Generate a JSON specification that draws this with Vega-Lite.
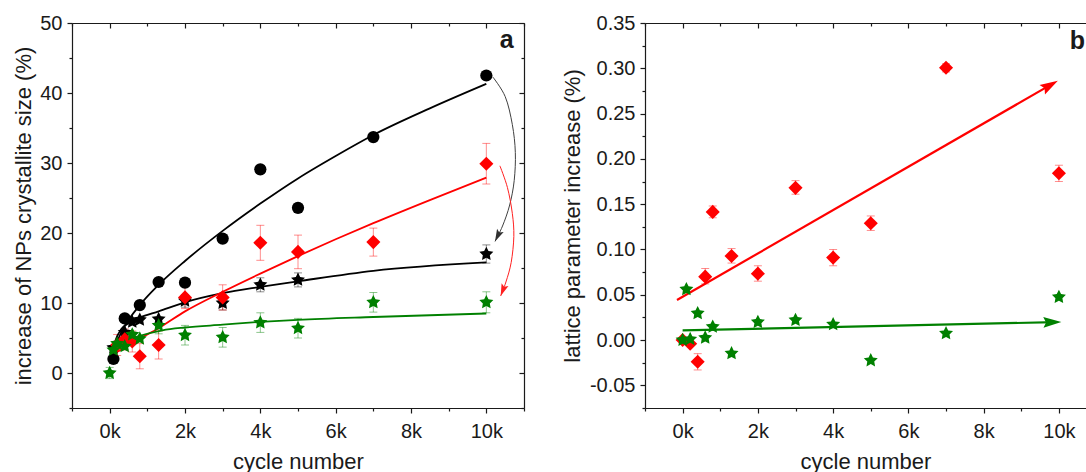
{
  "$schema": "https://vega.github.io/schema/vega-lite/v6.json",
  "background": "white",
  "padding": {"left": 12, "top": 13, "right": 0, "bottom": 0},
  "spacing": 36,
  "config": {
    "view": {"stroke": null},
    "font": "Liberation Sans",
    "axis": {
      "labelFont": "Liberation Sans", "titleFont": "Liberation Sans",
      "labelColor": "#1a1a1a", "titleColor": "#1a1a1a",
      "tickColor": "#1a1a1a", "domainColor": "#1a1a1a",
      "grid": false, "titleFontWeight": "normal",
      "labelFontSize": 20, "titleFontSize": 22,
      "tickWidth": 1.2, "domainWidth": 1.2, "labelFlush": false
    }
  },
  "datasets": {
    "lp": [
      {"series": "Pt(JM) (0.6 to 0.95) V AST", "cycle": 100, "value": 2.0},
      {"series": "Pt(JM) (0.6 to 0.95) V AST", "cycle": 400, "value": 7.8},
      {"series": "Pt(JM) (0.6 to 0.95) V AST", "cycle": 800, "value": 9.7},
      {"series": "Pt(JM) (0.6 to 0.95) V AST", "cycle": 1300, "value": 13.0},
      {"series": "Pt(JM) (0.6 to 0.95) V AST", "cycle": 2000, "value": 12.9},
      {"series": "Pt(JM) (0.6 to 0.95) V AST", "cycle": 3000, "value": 19.2},
      {"series": "Pt(JM) (0.6 to 0.95) V AST", "cycle": 4000, "value": 29.1},
      {"series": "Pt(JM) (0.6 to 0.95) V AST", "cycle": 5000, "value": 23.6},
      {"series": "Pt(JM) (0.6 to 0.95) V AST", "cycle": 7000, "value": 33.7},
      {"series": "Pt(JM) (0.6 to 0.95) V AST", "cycle": 10000, "value": 42.5},
      {"series": "Pt(JM) (0.7 to 0.95) V AST", "cycle": 100, "value": 3.6},
      {"series": "Pt(JM) (0.7 to 0.95) V AST", "cycle": 400, "value": 5.8},
      {"series": "Pt(JM) (0.7 to 0.95) V AST", "cycle": 600, "value": 7.3},
      {"series": "Pt(JM) (0.7 to 0.95) V AST", "cycle": 800, "value": 7.6},
      {"series": "Pt(JM) (0.7 to 0.95) V AST", "cycle": 1300, "value": 7.7},
      {"series": "Pt(JM) (0.7 to 0.95) V AST", "cycle": 2000, "value": 10.3},
      {"series": "Pt(JM) (0.7 to 0.95) V AST", "cycle": 3000, "value": 10.0},
      {"series": "Pt(JM) (0.7 to 0.95) V AST", "cycle": 4000, "value": 12.6},
      {"series": "Pt(JM) (0.7 to 0.95) V AST", "cycle": 5000, "value": 13.3},
      {"series": "Pt(JM) (0.7 to 0.95) V AST", "cycle": 10000, "value": 17.0},
      {"series": "oh-PtNiIr (0.6 to 0.95) V AST", "cycle": 200, "value": 4.0},
      {"series": "oh-PtNiIr (0.6 to 0.95) V AST", "cycle": 400, "value": 4.8},
      {"series": "oh-PtNiIr (0.6 to 0.95) V AST", "cycle": 600, "value": 4.5},
      {"series": "oh-PtNiIr (0.6 to 0.95) V AST", "cycle": 800, "value": 2.4},
      {"series": "oh-PtNiIr (0.6 to 0.95) V AST", "cycle": 1300, "value": 4.0},
      {"series": "oh-PtNiIr (0.6 to 0.95) V AST", "cycle": 2000, "value": 10.8},
      {"series": "oh-PtNiIr (0.6 to 0.95) V AST", "cycle": 3000, "value": 10.8},
      {"series": "oh-PtNiIr (0.6 to 0.95) V AST", "cycle": 4000, "value": 18.6},
      {"series": "oh-PtNiIr (0.6 to 0.95) V AST", "cycle": 5000, "value": 17.3},
      {"series": "oh-PtNiIr (0.6 to 0.95) V AST", "cycle": 7000, "value": 18.7},
      {"series": "oh-PtNiIr (0.6 to 0.95) V AST", "cycle": 10000, "value": 29.9},
      {"series": "oh-PtNiIr (0.7 to 0.95) V AST", "cycle": 0, "value": 0.0},
      {"series": "oh-PtNiIr (0.7 to 0.95) V AST", "cycle": 100, "value": 3.3},
      {"series": "oh-PtNiIr (0.7 to 0.95) V AST", "cycle": 200, "value": 4.2},
      {"series": "oh-PtNiIr (0.7 to 0.95) V AST", "cycle": 400, "value": 3.8},
      {"series": "oh-PtNiIr (0.7 to 0.95) V AST", "cycle": 600, "value": 5.5},
      {"series": "oh-PtNiIr (0.7 to 0.95) V AST", "cycle": 800, "value": 4.9},
      {"series": "oh-PtNiIr (0.7 to 0.95) V AST", "cycle": 1300, "value": 6.8},
      {"series": "oh-PtNiIr (0.7 to 0.95) V AST", "cycle": 2000, "value": 5.4},
      {"series": "oh-PtNiIr (0.7 to 0.95) V AST", "cycle": 3000, "value": 5.1},
      {"series": "oh-PtNiIr (0.7 to 0.95) V AST", "cycle": 4000, "value": 7.2},
      {"series": "oh-PtNiIr (0.7 to 0.95) V AST", "cycle": 5000, "value": 6.4},
      {"series": "oh-PtNiIr (0.7 to 0.95) V AST", "cycle": 7000, "value": 10.1},
      {"series": "oh-PtNiIr (0.7 to 0.95) V AST", "cycle": 10000, "value": 10.1}
    ],
    "le": [
      {"series": "Pt(JM) (0.7 to 0.95) V AST", "cycle": 2000, "lo": 9.4, "hi": 11.2},
      {"series": "Pt(JM) (0.7 to 0.95) V AST", "cycle": 3000, "lo": 9.0, "hi": 11.0},
      {"series": "Pt(JM) (0.7 to 0.95) V AST", "cycle": 4000, "lo": 11.6, "hi": 13.6},
      {"series": "Pt(JM) (0.7 to 0.95) V AST", "cycle": 5000, "lo": 12.3, "hi": 14.3},
      {"series": "Pt(JM) (0.7 to 0.95) V AST", "cycle": 10000, "lo": 15.7, "hi": 18.3},
      {"series": "oh-PtNiIr (0.6 to 0.95) V AST", "cycle": 200, "lo": 2.5, "hi": 5.5},
      {"series": "oh-PtNiIr (0.6 to 0.95) V AST", "cycle": 400, "lo": 3.3, "hi": 6.3},
      {"series": "oh-PtNiIr (0.6 to 0.95) V AST", "cycle": 600, "lo": 3.0, "hi": 6.0},
      {"series": "oh-PtNiIr (0.6 to 0.95) V AST", "cycle": 800, "lo": 0.6, "hi": 4.2},
      {"series": "oh-PtNiIr (0.6 to 0.95) V AST", "cycle": 1300, "lo": 2.0, "hi": 6.0},
      {"series": "oh-PtNiIr (0.6 to 0.95) V AST", "cycle": 2000, "lo": 9.2, "hi": 12.4},
      {"series": "oh-PtNiIr (0.6 to 0.95) V AST", "cycle": 3000, "lo": 9.0, "hi": 12.6},
      {"series": "oh-PtNiIr (0.6 to 0.95) V AST", "cycle": 4000, "lo": 16.1, "hi": 21.1},
      {"series": "oh-PtNiIr (0.6 to 0.95) V AST", "cycle": 5000, "lo": 14.9, "hi": 19.7},
      {"series": "oh-PtNiIr (0.6 to 0.95) V AST", "cycle": 7000, "lo": 16.7, "hi": 20.7},
      {"series": "oh-PtNiIr (0.6 to 0.95) V AST", "cycle": 10000, "lo": 27.0, "hi": 32.8},
      {"series": "oh-PtNiIr (0.7 to 0.95) V AST", "cycle": 0, "lo": -0.8, "hi": 0.8},
      {"series": "oh-PtNiIr (0.7 to 0.95) V AST", "cycle": 1300, "lo": 5.6, "hi": 8.0},
      {"series": "oh-PtNiIr (0.7 to 0.95) V AST", "cycle": 2000, "lo": 4.0, "hi": 6.8},
      {"series": "oh-PtNiIr (0.7 to 0.95) V AST", "cycle": 3000, "lo": 3.7, "hi": 6.5},
      {"series": "oh-PtNiIr (0.7 to 0.95) V AST", "cycle": 4000, "lo": 5.8, "hi": 8.6},
      {"series": "oh-PtNiIr (0.7 to 0.95) V AST", "cycle": 5000, "lo": 5.0, "hi": 7.8},
      {"series": "oh-PtNiIr (0.7 to 0.95) V AST", "cycle": 7000, "lo": 8.7, "hi": 11.5},
      {"series": "oh-PtNiIr (0.7 to 0.95) V AST", "cycle": 10000, "lo": 8.6, "hi": 11.6}
    ],
    "lf": [
      {"series": "Pt(JM) (0.6 to 0.95) V AST", "cycle": 50, "value": 2.0},
      {"series": "Pt(JM) (0.6 to 0.95) V AST", "cycle": 200, "value": 4.5},
      {"series": "Pt(JM) (0.6 to 0.95) V AST", "cycle": 400, "value": 6.7},
      {"series": "Pt(JM) (0.6 to 0.95) V AST", "cycle": 800, "value": 9.7},
      {"series": "Pt(JM) (0.6 to 0.95) V AST", "cycle": 1300, "value": 12.6},
      {"series": "Pt(JM) (0.6 to 0.95) V AST", "cycle": 2000, "value": 16.0},
      {"series": "Pt(JM) (0.6 to 0.95) V AST", "cycle": 3000, "value": 20.3},
      {"series": "Pt(JM) (0.6 to 0.95) V AST", "cycle": 4000, "value": 24.2},
      {"series": "Pt(JM) (0.6 to 0.95) V AST", "cycle": 5000, "value": 27.8},
      {"series": "Pt(JM) (0.6 to 0.95) V AST", "cycle": 6000, "value": 31.0},
      {"series": "Pt(JM) (0.6 to 0.95) V AST", "cycle": 7000, "value": 34.0},
      {"series": "Pt(JM) (0.6 to 0.95) V AST", "cycle": 8500, "value": 37.8},
      {"series": "Pt(JM) (0.6 to 0.95) V AST", "cycle": 10000, "value": 41.3},
      {"series": "Pt(JM) (0.7 to 0.95) V AST", "cycle": 50, "value": 2.8},
      {"series": "Pt(JM) (0.7 to 0.95) V AST", "cycle": 150, "value": 4.6},
      {"series": "Pt(JM) (0.7 to 0.95) V AST", "cycle": 300, "value": 6.2},
      {"series": "Pt(JM) (0.7 to 0.95) V AST", "cycle": 600, "value": 7.4},
      {"series": "Pt(JM) (0.7 to 0.95) V AST", "cycle": 800, "value": 7.9},
      {"series": "Pt(JM) (0.7 to 0.95) V AST", "cycle": 1300, "value": 8.8},
      {"series": "Pt(JM) (0.7 to 0.95) V AST", "cycle": 2000, "value": 10.1},
      {"series": "Pt(JM) (0.7 to 0.95) V AST", "cycle": 3000, "value": 11.4},
      {"series": "Pt(JM) (0.7 to 0.95) V AST", "cycle": 4000, "value": 12.3},
      {"series": "Pt(JM) (0.7 to 0.95) V AST", "cycle": 5000, "value": 13.1},
      {"series": "Pt(JM) (0.7 to 0.95) V AST", "cycle": 7000, "value": 14.6},
      {"series": "Pt(JM) (0.7 to 0.95) V AST", "cycle": 10000, "value": 15.8},
      {"series": "oh-PtNiIr (0.6 to 0.95) V AST", "cycle": 150, "value": 2.9},
      {"series": "oh-PtNiIr (0.6 to 0.95) V AST", "cycle": 500, "value": 3.9},
      {"series": "oh-PtNiIr (0.6 to 0.95) V AST", "cycle": 800, "value": 4.9},
      {"series": "oh-PtNiIr (0.6 to 0.95) V AST", "cycle": 1300, "value": 6.4},
      {"series": "oh-PtNiIr (0.6 to 0.95) V AST", "cycle": 2000, "value": 8.8},
      {"series": "oh-PtNiIr (0.6 to 0.95) V AST", "cycle": 3000, "value": 11.6},
      {"series": "oh-PtNiIr (0.6 to 0.95) V AST", "cycle": 4000, "value": 14.2},
      {"series": "oh-PtNiIr (0.6 to 0.95) V AST", "cycle": 5000, "value": 16.7},
      {"series": "oh-PtNiIr (0.6 to 0.95) V AST", "cycle": 6000, "value": 19.1},
      {"series": "oh-PtNiIr (0.6 to 0.95) V AST", "cycle": 7000, "value": 21.4},
      {"series": "oh-PtNiIr (0.6 to 0.95) V AST", "cycle": 8500, "value": 24.7},
      {"series": "oh-PtNiIr (0.6 to 0.95) V AST", "cycle": 10000, "value": 27.9},
      {"series": "oh-PtNiIr (0.7 to 0.95) V AST", "cycle": 30, "value": 2.2},
      {"series": "oh-PtNiIr (0.7 to 0.95) V AST", "cycle": 100, "value": 3.4},
      {"series": "oh-PtNiIr (0.7 to 0.95) V AST", "cycle": 350, "value": 4.4},
      {"series": "oh-PtNiIr (0.7 to 0.95) V AST", "cycle": 800, "value": 5.3},
      {"series": "oh-PtNiIr (0.7 to 0.95) V AST", "cycle": 1400, "value": 6.1},
      {"series": "oh-PtNiIr (0.7 to 0.95) V AST", "cycle": 2000, "value": 6.5},
      {"series": "oh-PtNiIr (0.7 to 0.95) V AST", "cycle": 3000, "value": 6.9},
      {"series": "oh-PtNiIr (0.7 to 0.95) V AST", "cycle": 4000, "value": 7.3},
      {"series": "oh-PtNiIr (0.7 to 0.95) V AST", "cycle": 5000, "value": 7.6},
      {"series": "oh-PtNiIr (0.7 to 0.95) V AST", "cycle": 7000, "value": 8.0},
      {"series": "oh-PtNiIr (0.7 to 0.95) V AST", "cycle": 10000, "value": 8.5}
    ],
    "la1": [
      {"ord": 1, "cycle": 10170, "value": 42.3},
      {"ord": 2, "cycle": 10500, "value": 39.5},
      {"ord": 3, "cycle": 10690, "value": 35.5},
      {"ord": 4, "cycle": 10770, "value": 31.5},
      {"ord": 5, "cycle": 10740, "value": 27.5},
      {"ord": 6, "cycle": 10620, "value": 24.0},
      {"ord": 7, "cycle": 10430, "value": 21.0},
      {"ord": 8, "cycle": 10230, "value": 18.8}
    ],
    "la2": [
      {"ord": 1, "cycle": 10360, "value": 29.6},
      {"ord": 2, "cycle": 10560, "value": 26.5},
      {"ord": 3, "cycle": 10690, "value": 22.8},
      {"ord": 4, "cycle": 10730, "value": 19.5},
      {"ord": 5, "cycle": 10660, "value": 15.8},
      {"ord": 6, "cycle": 10520, "value": 13.0},
      {"ord": 7, "cycle": 10380, "value": 11.0}
    ],
    "lh1": [{"cycle": 10230, "value": 18.8}],
    "lh2": [{"cycle": 10380, "value": 11.0}],
    "ll": [{"label": "a", "cycle": 10540, "value": 46.5}],
    "rp": [
      {"series": "oh-PtNiIr (0.6 to 0.95) V AST", "cycle": 0, "value": 0.0},
      {"series": "oh-PtNiIr (0.6 to 0.95) V AST", "cycle": 200, "value": -0.004},
      {"series": "oh-PtNiIr (0.6 to 0.95) V AST", "cycle": 400, "value": -0.024},
      {"series": "oh-PtNiIr (0.6 to 0.95) V AST", "cycle": 600, "value": 0.070},
      {"series": "oh-PtNiIr (0.6 to 0.95) V AST", "cycle": 800, "value": 0.1415},
      {"series": "oh-PtNiIr (0.6 to 0.95) V AST", "cycle": 1300, "value": 0.0928},
      {"series": "oh-PtNiIr (0.6 to 0.95) V AST", "cycle": 2000, "value": 0.0733},
      {"series": "oh-PtNiIr (0.6 to 0.95) V AST", "cycle": 3000, "value": 0.168},
      {"series": "oh-PtNiIr (0.6 to 0.95) V AST", "cycle": 4000, "value": 0.091},
      {"series": "oh-PtNiIr (0.6 to 0.95) V AST", "cycle": 5000, "value": 0.129},
      {"series": "oh-PtNiIr (0.6 to 0.95) V AST", "cycle": 7000, "value": 0.3006},
      {"series": "oh-PtNiIr (0.6 to 0.95) V AST", "cycle": 10000, "value": 0.1842},
      {"series": "oh-PtNiIr (0.7 to 0.95) V AST", "cycle": 0, "value": 0.0},
      {"series": "oh-PtNiIr (0.7 to 0.95) V AST", "cycle": 100, "value": 0.056},
      {"series": "oh-PtNiIr (0.7 to 0.95) V AST", "cycle": 200, "value": 0.001},
      {"series": "oh-PtNiIr (0.7 to 0.95) V AST", "cycle": 400, "value": 0.0295},
      {"series": "oh-PtNiIr (0.7 to 0.95) V AST", "cycle": 600, "value": 0.0026},
      {"series": "oh-PtNiIr (0.7 to 0.95) V AST", "cycle": 800, "value": 0.0147},
      {"series": "oh-PtNiIr (0.7 to 0.95) V AST", "cycle": 1300, "value": -0.0147},
      {"series": "oh-PtNiIr (0.7 to 0.95) V AST", "cycle": 2000, "value": 0.0199},
      {"series": "oh-PtNiIr (0.7 to 0.95) V AST", "cycle": 3000, "value": 0.0221},
      {"series": "oh-PtNiIr (0.7 to 0.95) V AST", "cycle": 4000, "value": 0.0173},
      {"series": "oh-PtNiIr (0.7 to 0.95) V AST", "cycle": 5000, "value": -0.0225},
      {"series": "oh-PtNiIr (0.7 to 0.95) V AST", "cycle": 7000, "value": 0.0074},
      {"series": "oh-PtNiIr (0.7 to 0.95) V AST", "cycle": 10000, "value": 0.0475}
    ],
    "re": [
      {"series": "oh-PtNiIr (0.6 to 0.95) V AST", "cycle": 400, "lo": -0.033, "hi": -0.015},
      {"series": "oh-PtNiIr (0.6 to 0.95) V AST", "cycle": 600, "lo": 0.062, "hi": 0.079},
      {"series": "oh-PtNiIr (0.6 to 0.95) V AST", "cycle": 800, "lo": 0.135, "hi": 0.148},
      {"series": "oh-PtNiIr (0.6 to 0.95) V AST", "cycle": 1300, "lo": 0.085, "hi": 0.101},
      {"series": "oh-PtNiIr (0.6 to 0.95) V AST", "cycle": 2000, "lo": 0.065, "hi": 0.082},
      {"series": "oh-PtNiIr (0.6 to 0.95) V AST", "cycle": 3000, "lo": 0.161, "hi": 0.176},
      {"series": "oh-PtNiIr (0.6 to 0.95) V AST", "cycle": 4000, "lo": 0.082, "hi": 0.100},
      {"series": "oh-PtNiIr (0.6 to 0.95) V AST", "cycle": 5000, "lo": 0.121, "hi": 0.137},
      {"series": "oh-PtNiIr (0.6 to 0.95) V AST", "cycle": 7000, "lo": 0.296, "hi": 0.305},
      {"series": "oh-PtNiIr (0.6 to 0.95) V AST", "cycle": 10000, "lo": 0.175, "hi": 0.193}
    ],
    "ra": [
      {"series": "oh-PtNiIr (0.6 to 0.95) V AST", "cycle": -150, "value": 0.0442},
      {"series": "oh-PtNiIr (0.6 to 0.95) V AST", "cycle": 9800, "value": 0.2822},
      {"series": "oh-PtNiIr (0.7 to 0.95) V AST", "cycle": 0, "value": 0.0107},
      {"series": "oh-PtNiIr (0.7 to 0.95) V AST", "cycle": 9900, "value": 0.0198}
    ],
    "rh1": [{"cycle": 9972, "value": 0.2863}],
    "rh2": [{"cycle": 10065, "value": 0.0199}],
    "rl": [{"label": "b", "cycle": 10490, "value": 0.3213}]
  },
  "hconcat": [
    {
      "width": 452,
      "height": 385,
      "resolve": {"axis": {"x": "independent", "y": "independent"}},
      "layer": [
        {
          "data": {"name": "le"},
          "mark": {"type": "rule", "strokeWidth": 1, "opacity": 0.45},
          "encoding": {
            "x": {"field": "cycle", "type": "quantitative", "scale": {"domain": [-1000, 11000], "nice": false, "zero": false},
                  "axis": {"orient": "bottom", "values": [-1000, 1000, 3000, 5000, 7000, 9000, 11000], "tickSize": 3, "labels": false, "domain": false, "title": null}},
            "y": {"field": "lo", "type": "quantitative", "scale": {"domain": [-5, 50], "nice": false, "zero": false},
                  "axis": {"orient": "left", "values": [-5, 5, 15, 25, 35, 45], "tickSize": 3, "labels": false, "domain": false, "title": null}},
            "y2": {"field": "hi"},
            "color": {"field": "series", "type": "nominal", "legend": null}
          }
        },
        {
          "data": {"name": "le"},
          "mark": {"type": "tick", "orient": "horizontal", "size": 8, "thickness": 1, "opacity": 0.45},
          "encoding": {
            "x": {"field": "cycle", "type": "quantitative",
                  "axis": {"orient": "top", "values": [0, 2000, 4000, 6000, 8000, 10000], "offset": -5, "tickSize": 5, "labels": false, "domain": false, "title": null}},
            "y": {"field": "hi", "type": "quantitative",
                  "axis": {"orient": "right", "values": [0, 10, 20, 30, 40, 50], "offset": -5, "tickSize": 5, "labels": false, "domain": false, "title": null}},
            "color": {"field": "series", "type": "nominal", "legend": null}
          }
        },
        {
          "data": {"name": "le"},
          "mark": {"type": "tick", "orient": "horizontal", "size": 8, "thickness": 1, "opacity": 0.45},
          "encoding": {
            "x": {"field": "cycle", "type": "quantitative",
                  "axis": {"orient": "top", "values": [-1000, 1000, 3000, 5000, 7000, 9000, 11000], "offset": -3, "tickSize": 3, "labels": false, "domain": false, "title": null}},
            "y": {"field": "lo", "type": "quantitative",
                  "axis": {"orient": "right", "values": [-5, 5, 15, 25, 35, 45], "offset": -3, "tickSize": 3, "labels": false, "domain": false, "title": null}},
            "color": {"field": "series", "type": "nominal", "legend": null}
          }
        },
        {
          "data": {"name": "lf"},
          "mark": {"type": "line", "strokeWidth": 1.8, "interpolate": "monotone"},
          "encoding": {
            "x": {"field": "cycle", "type": "quantitative",
                  "axis": {"orient": "top", "ticks": false, "labels": false, "domain": true, "title": null}},
            "y": {"field": "value", "type": "quantitative",
                  "axis": {"orient": "right", "ticks": false, "labels": false, "domain": true, "title": null}},
            "color": {"field": "series", "type": "nominal", "legend": null}
          }
        },
        {
          "data": {"name": "la1"},
          "mark": {"type": "line", "strokeWidth": 1, "color": "#404040", "interpolate": "cardinal"},
          "encoding": {
            "x": {"field": "cycle", "type": "quantitative", "axis": null},
            "y": {"field": "value", "type": "quantitative", "axis": null},
            "order": {"field": "ord", "type": "quantitative"}
          }
        },
        {
          "data": {"name": "la2"},
          "mark": {"type": "line", "strokeWidth": 1, "color": "#ff2020", "interpolate": "cardinal"},
          "encoding": {
            "x": {"field": "cycle", "type": "quantitative", "axis": null},
            "y": {"field": "value", "type": "quantitative", "axis": null},
            "order": {"field": "ord", "type": "quantitative"}
          }
        },
        {
          "data": {"name": "lp"},
          "mark": {"type": "point", "filled": true, "opacity": 1, "strokeWidth": 0, "size": 150},
          "encoding": {
            "x": {"field": "cycle", "type": "quantitative",
                  "axis": {"orient": "bottom", "values": [0, 2000, 4000, 6000, 8000, 10000], "format": "~s", "tickSize": 5, "labelPadding": 8, "domain": true, "title": "cycle number", "titlePadding": 10}},
            "y": {"field": "value", "type": "quantitative",
                  "axis": {"orient": "left", "values": [0, 10, 20, 30, 40, 50], "tickSize": 5, "labelPadding": 5, "domain": true, "title": "increase of NPs crystallite size (%)", "titlePadding": 4}},
            "color": {"field": "series", "type": "nominal",
                      "scale": {"domain": ["Pt(JM) (0.6 to 0.95) V AST", "Pt(JM) (0.7 to 0.95) V AST", "oh-PtNiIr (0.6 to 0.95) V AST", "oh-PtNiIr (0.7 to 0.95) V AST"], "range": ["#000000", "#000000", "#ff0000", "#008000"]},
                      "legend": {"orient": "none", "direction": "vertical", "legendX": 21, "legendY": 0, "title": null, "labelFont": "Liberation Sans", "labelFontSize": 18, "labelColor": "#1a1a1a", "symbolSize": 150, "symbolOffset": 12, "labelOffset": 16, "padding": 4, "rowPadding": 4.5, "strokeColor": "#9a9a9a", "fillColor": "white", "labelLimit": 400}},
            "shape": {"field": "series", "type": "nominal",
                      "scale": {"domain": ["Pt(JM) (0.6 to 0.95) V AST", "Pt(JM) (0.7 to 0.95) V AST", "oh-PtNiIr (0.6 to 0.95) V AST", "oh-PtNiIr (0.7 to 0.95) V AST"],
                                "range": ["circle", "M0,-1.2L0.353,-0.485L1.141,-0.371L0.571,0.185L0.705,0.971L0,0.6L-0.705,0.971L-0.571,0.185L-1.141,-0.371L-0.353,-0.485Z", "M-1.15,0L0,-1.15L1.15,0L0,1.15Z", "M0,-1.2L0.353,-0.485L1.141,-0.371L0.571,0.185L0.705,0.971L0,0.6L-0.705,0.971L-0.571,0.185L-1.141,-0.371L-0.353,-0.485Z"]},
                      "legend": {"orient": "none", "direction": "vertical", "legendX": 21, "legendY": 0, "title": null, "labelFont": "Liberation Sans", "labelFontSize": 18, "labelColor": "#1a1a1a", "symbolSize": 150, "symbolOffset": 12, "labelOffset": 16, "padding": 4, "rowPadding": 4.5, "strokeColor": "#9a9a9a", "fillColor": "white", "labelLimit": 400}}
          }
        },
        {
          "data": {"name": "lh1"},
          "mark": {"type": "point", "filled": true, "color": "#303030", "opacity": 1, "size": 150, "angle": 116, "shape": "M0,0L-2,-0.6L-1.6,0L-2,0.6Z"},
          "encoding": {
            "x": {"field": "cycle", "type": "quantitative", "axis": null},
            "y": {"field": "value", "type": "quantitative", "axis": null}
          }
        },
        {
          "data": {"name": "lh2"},
          "mark": {"type": "point", "filled": true, "color": "#ff2020", "opacity": 1, "size": 150, "angle": 111, "shape": "M0,0L-2,-0.6L-1.6,0L-2,0.6Z"},
          "encoding": {
            "x": {"field": "cycle", "type": "quantitative", "axis": null},
            "y": {"field": "value", "type": "quantitative", "axis": null}
          }
        },
        {
          "data": {"name": "ll"},
          "mark": {"type": "text", "font": "Liberation Sans", "fontWeight": "bold", "fontSize": 25, "align": "center", "baseline": "alphabetic", "color": "#1a1a1a"},
          "encoding": {
            "x": {"field": "cycle", "type": "quantitative", "axis": null},
            "y": {"field": "value", "type": "quantitative", "axis": null},
            "text": {"field": "label", "type": "nominal"}
          }
        }
      ]
    },
    {
      "width": 441,
      "height": 385,
      "resolve": {"axis": {"x": "independent", "y": "independent"}},
      "layer": [
        {
          "data": {"name": "re"},
          "mark": {"type": "rule", "strokeWidth": 1, "opacity": 0.45},
          "encoding": {
            "x": {"field": "cycle", "type": "quantitative", "scale": {"domain": [-1000, 10720], "nice": false, "zero": false},
                  "axis": {"orient": "bottom", "values": [-1000, 1000, 3000, 5000, 7000, 9000], "tickSize": 3, "labels": false, "domain": false, "title": null}},
            "y": {"field": "lo", "type": "quantitative", "scale": {"domain": [-0.075, 0.35], "nice": false, "zero": false},
                  "axis": {"orient": "left", "values": [-0.075, -0.025, 0.025, 0.075, 0.125, 0.175, 0.225, 0.275, 0.325], "tickSize": 3, "labels": false, "domain": false, "title": null}},
            "y2": {"field": "hi"},
            "color": {"field": "series", "type": "nominal", "legend": null}
          }
        },
        {
          "data": {"name": "re"},
          "mark": {"type": "tick", "orient": "horizontal", "size": 8, "thickness": 1, "opacity": 0.45},
          "encoding": {
            "x": {"field": "cycle", "type": "quantitative",
                  "axis": {"orient": "top", "values": [0, 2000, 4000, 6000, 8000, 10000], "offset": -5, "tickSize": 5, "labels": false, "domain": false, "title": null}},
            "y": {"field": "hi", "type": "quantitative", "axis": null},
            "color": {"field": "series", "type": "nominal", "legend": null}
          }
        },
        {
          "data": {"name": "re"},
          "mark": {"type": "tick", "orient": "horizontal", "size": 8, "thickness": 1, "opacity": 0.45},
          "encoding": {
            "x": {"field": "cycle", "type": "quantitative",
                  "axis": {"orient": "top", "values": [-1000, 1000, 3000, 5000, 7000, 9000], "offset": -3, "tickSize": 3, "labels": false, "domain": false, "title": null}},
            "y": {"field": "lo", "type": "quantitative", "axis": null},
            "color": {"field": "series", "type": "nominal", "legend": null}
          }
        },
        {
          "data": {"name": "ra"},
          "mark": {"type": "line", "strokeWidth": 2.2},
          "encoding": {
            "x": {"field": "cycle", "type": "quantitative",
                  "axis": {"orient": "top", "ticks": false, "labels": false, "domain": true, "title": null}},
            "y": {"field": "value", "type": "quantitative", "axis": null},
            "color": {"field": "series", "type": "nominal", "legend": null}
          }
        },
        {
          "data": {"name": "rp"},
          "mark": {"type": "point", "filled": true, "opacity": 1, "strokeWidth": 0, "size": 150},
          "encoding": {
            "x": {"field": "cycle", "type": "quantitative",
                  "axis": {"orient": "bottom", "values": [0, 2000, 4000, 6000, 8000, 10000], "format": "~s", "tickSize": 5, "labelPadding": 8, "domain": true, "title": "cycle number", "titlePadding": 10}},
            "y": {"field": "value", "type": "quantitative",
                  "axis": {"orient": "left", "values": [-0.05, 0, 0.05, 0.1, 0.15, 0.2, 0.25, 0.3, 0.35], "labelExpr": "(datum.value < 0 ? '-' : '') + format(abs(datum.value), '.2f')", "tickSize": 5, "labelPadding": 5, "domain": true, "title": "lattice parameter increase (%)", "titlePadding": 5}},
            "color": {"field": "series", "type": "nominal",
                      "scale": {"domain": ["oh-PtNiIr (0.6 to 0.95) V AST", "oh-PtNiIr (0.7 to 0.95) V AST"], "range": ["#ff0000", "#008000"]},
                      "legend": {"orient": "none", "direction": "vertical", "legendX": 3, "legendY": 0, "title": null, "labelFont": "Liberation Sans", "labelFontSize": 18, "labelColor": "#1a1a1a", "symbolSize": 150, "symbolOffset": 12, "labelOffset": 16, "padding": 4, "rowPadding": 4.5, "strokeColor": "#9a9a9a", "fillColor": "white", "labelLimit": 400}},
            "shape": {"field": "series", "type": "nominal",
                      "scale": {"domain": ["oh-PtNiIr (0.6 to 0.95) V AST", "oh-PtNiIr (0.7 to 0.95) V AST"],
                                "range": ["M-1.15,0L0,-1.15L1.15,0L0,1.15Z", "M0,-1.2L0.353,-0.485L1.141,-0.371L0.571,0.185L0.705,0.971L0,0.6L-0.705,0.971L-0.571,0.185L-1.141,-0.371L-0.353,-0.485Z"]},
                      "legend": {"orient": "none", "direction": "vertical", "legendX": 3, "legendY": 0, "title": null, "labelFont": "Liberation Sans", "labelFontSize": 18, "labelColor": "#1a1a1a", "symbolSize": 150, "symbolOffset": 12, "labelOffset": 16, "padding": 4, "rowPadding": 4.5, "strokeColor": "#9a9a9a", "fillColor": "white", "labelLimit": 400}}
          }
        },
        {
          "data": {"name": "rh1"},
          "mark": {"type": "point", "filled": true, "color": "#ff0000", "opacity": 1, "size": 324, "angle": -30, "shape": "M0,0L-2,-0.6L-1.7,0L-2,0.6Z"},
          "encoding": {
            "x": {"field": "cycle", "type": "quantitative", "axis": null},
            "y": {"field": "value", "type": "quantitative", "axis": null}
          }
        },
        {
          "data": {"name": "rh2"},
          "mark": {"type": "point", "filled": true, "color": "#008000", "opacity": 1, "size": 324, "angle": -1.3, "shape": "M0,0L-2,-0.6L-1.7,0L-2,0.6Z"},
          "encoding": {
            "x": {"field": "cycle", "type": "quantitative", "axis": null},
            "y": {"field": "value", "type": "quantitative", "axis": null}
          }
        },
        {
          "data": {"name": "rl"},
          "mark": {"type": "text", "font": "Liberation Sans", "fontWeight": "bold", "fontSize": 25, "align": "center", "baseline": "alphabetic", "color": "#1a1a1a"},
          "encoding": {
            "x": {"field": "cycle", "type": "quantitative", "axis": null},
            "y": {"field": "value", "type": "quantitative", "axis": null},
            "text": {"field": "label", "type": "nominal"}
          }
        }
      ]
    }
  ],
  "resolve": {
    "scale": {"color": "independent", "shape": "independent"},
    "legend": {"color": "independent", "shape": "independent"}
  }
}
